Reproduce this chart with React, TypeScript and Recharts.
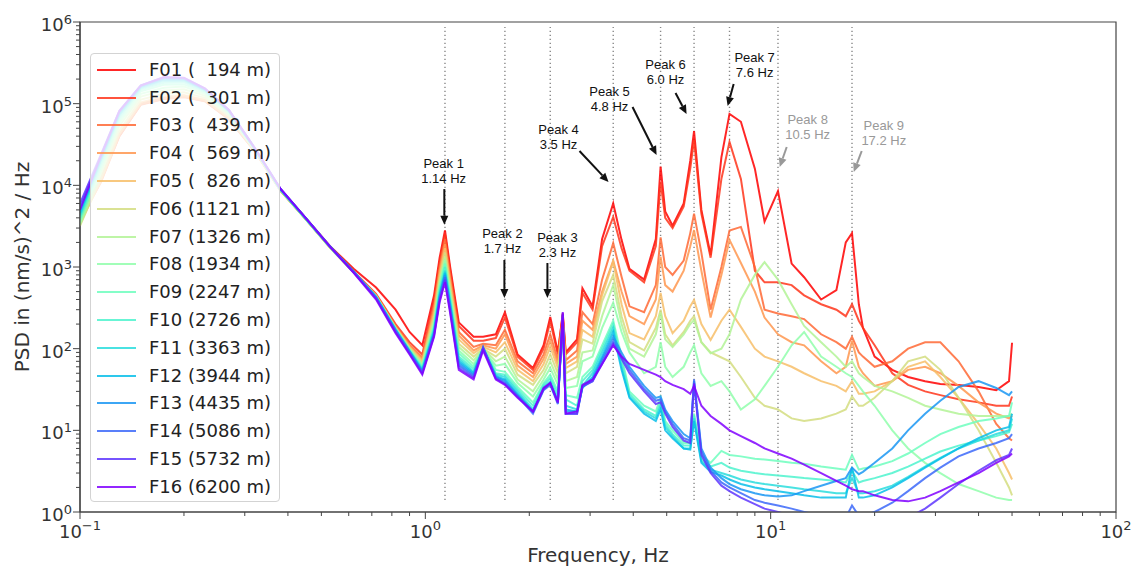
import React from 'react';
import { LineChart, Line, XAxis, YAxis, ReferenceLine, ReferenceDot, ReferenceArea, Legend } from 'recharts';

// Frequency grid (Hz)
const FREQ = [
  0.1, 0.115, 0.13, 0.15, 0.175, 0.2, 0.23, 0.27, 0.32, 0.38, 0.45, 0.53, 0.62, 0.72, 0.82, 0.9, 0.98,
  1.06, 1.1, 1.14, 1.18, 1.25, 1.38, 1.47, 1.6, 1.7, 1.85, 2.05, 2.2, 2.3, 2.42, 2.5, 2.55, 2.75, 2.85, 3.05,
  3.25, 3.5, 3.7, 3.9, 4.3, 4.65, 4.8, 4.95, 5.2, 5.6, 5.85, 6.0, 6.3, 6.7, 7.2, 7.6, 8.2, 9.0, 9.6, 10.5,
  11.5, 12.5, 14, 15.5, 16.5, 17.2, 18, 18.5, 20, 22.5, 25, 28, 31, 35, 40, 45, 49, 50,
];

const F01 = [
  4200, 12000, 42000, 100000, 118000, 125000, 110000, 66000, 27000, 9000, 4000, 1800, 950, 560, 300, 160, 110,
  450, 1300, 2800, 1000, 210, 140, 140, 150, 280, 85, 58, 110, 245, 90, 270, 90, 130, 550, 330,
  2200, 6000, 2150, 950, 700, 2200, 17000, 4800, 3200, 6000, 20000, 46000, 5000, 1400, 22000, 75000, 60000, 16000, 3600, 8500,
  1100, 750, 400, 520, 2000, 2600, 350, 180, 80, 55, 45, 40, 37, 36, 34, 31, 40, 118,
];
const F02 = [
  4000, 11500, 40000, 98000, 115000, 122000, 108000, 65000, 27000, 8800, 3900, 1750, 880, 470, 200, 120, 85,
  400, 1150, 2500, 900, 190, 125, 125, 135, 240, 80, 55, 100, 215, 85, 260, 85, 120, 480, 300,
  1800, 4100, 1700, 900, 650, 1800, 11000, 4000, 3000, 5500, 16000, 36000, 4500, 1300, 12000, 34000, 12000, 900, 650, 650,
  600, 450, 350, 300, 250, 350, 220, 180, 110, 50, 36, 30, 27, 24, 22, 20, 20, 26,
];
const F03 = [
  3800, 11000, 40000, 97000, 114000, 120000, 107000, 64000, 26500, 8700, 3900, 1750, 870, 455, 190, 112, 78,
  330, 1000, 2200, 780, 160, 105, 115, 110, 170, 70, 50, 85, 150, 72, 250, 72, 95, 280, 200,
  700, 1960, 760, 330, 280, 600, 2300, 1000, 800, 1200, 2600, 4500, 1500, 300, 1000, 2800, 3100, 1000, 300, 270,
  250, 230, 150, 120, 100, 140, 90, 80, 60, 70, 100, 120, 120, 70, 30, 12, 8, 7.5,
];
const F04 = [
  3600, 11000, 41000, 99000, 116000, 122000, 108000, 65000, 26500, 8700, 3850, 1720, 860, 450, 185, 108, 74,
  300, 900, 1900, 700, 145, 95, 110, 100, 150, 62, 45, 75, 125, 65, 240, 65, 80, 220, 170,
  500, 1200, 500, 250, 200, 400, 1340, 600, 500, 900, 1800, 2830, 900, 240, 800, 2150, 1120, 500, 240, 150,
  120, 110, 70, 50, 60, 125, 60, 50, 35, 40, 55, 60, 50, 35, 22, 16, 14, 15,
];
const F05 = [
  3400, 11500, 43000, 104000, 122000, 128000, 112000, 67000, 27000, 8700, 3850, 1720, 860, 445, 182, 105, 70,
  270, 800, 1700, 620, 130, 88, 105, 90, 120, 55, 40, 65, 105, 58, 230, 58, 70, 170, 140,
  450, 1160, 350, 155, 130, 250, 480, 250, 155, 220, 330, 395, 200, 128, 220, 300, 185, 100, 80, 70,
  60, 50, 40, 35, 30, 40, 28, 28, 30, 40, 60, 70, 45, 25, 12, 6, 3, 2.5,
];
const F06 = [
  3200, 12500, 47000, 112000, 132000, 138000, 118000, 70000, 27000, 8700, 3850, 1720, 860, 440, 180, 103, 67,
  240, 720, 1500, 560, 115, 80, 100, 80, 100, 48, 36, 55, 85, 50, 220, 50, 60, 130, 115,
  380, 800, 250, 120, 95, 180, 300, 150, 110, 160, 220, 250, 120, 90, 78, 70, 45, 25, 20, 18,
  14, 13, 14, 16, 18, 26, 20, 20, 25, 40, 70, 80, 55, 25, 10, 4, 2, 1.6,
];
const F07 = [
  3300, 14000, 53000, 122000, 145000, 150000, 125000, 73000, 27500, 8800, 3900, 1740, 860, 440, 178, 100, 64,
  220, 650, 1300, 500, 105, 72, 100, 70, 80, 42, 30, 48, 70, 42, 210, 40, 45, 90, 95,
  250, 600, 200, 100, 80, 150, 275, 130, 105, 150, 200, 225, 120, 88, 100, 150, 400, 800, 1150, 700,
  350, 190, 120, 80, 60, 70, 50, 45, 35, 30, 25, 20, 18, 16, 15, 15, 15, 16,
];
const F08 = [
  3500, 15500, 58000, 132000, 157000, 162000, 132000, 76000, 27500, 8800, 3900, 1740, 860, 435, 176, 98, 62,
  200, 600, 1200, 460, 95, 65, 98, 62, 65, 38, 26, 42, 58, 36, 200, 33, 35, 70, 80,
  180, 365, 160, 90, 50, 60, 120, 60, 45, 60, 90, 110, 50, 35, 40, 30, 18, 24, 35, 60,
  110, 160, 80, 60, 50, 45, 35, 30, 20, 10, 6, 4, 3, 2.2, 1.8, 1.5, 1.4, 1.4,
];
const F09 = [
  3800, 17000, 63000, 142000, 170000, 172000, 138000, 78000, 28000, 8900, 3900, 1750, 865, 435, 175, 97, 60,
  190, 560, 1100, 430, 88, 60, 100, 55, 52, 34, 22, 38, 48, 30, 200, 27, 25, 45, 60,
  110, 220, 80, 30, 20, 17, 25, 13, 10, 7, 7, 16, 5, 4, 5.6, 5, 4.8, 4.5, 4.4, 4.2,
  4.0, 3.9, 3.6, 3.4, 3.3, 5, 3.3, 3.4, 3.6, 4.2, 5.2, 7, 9, 11, 13, 14, 15, 22,
];
const F10 = [
  4000, 18500, 68000, 150000, 180000, 182000, 142000, 80000, 28000, 8900, 3950, 1750, 865, 430, 173, 95, 58,
  180, 520, 1000, 400, 80, 56, 100, 50, 48, 32, 20, 36, 44, 27, 200, 24, 20, 40, 55,
  100, 200, 70, 28, 18, 15, 22, 12, 9, 6.5, 6.5, 15, 4.5, 3.6, 4, 3.5, 3.2, 3, 2.9, 2.8,
  2.7, 2.6, 2.5, 2.4, 2.3, 3.2, 2.3, 2.4, 2.6, 3.0, 3.6, 4.5, 5.5, 6.5, 7.5, 8.5, 9.5, 12,
];
const F11 = [
  4300, 20000, 72000, 155000, 190000, 190000, 146000, 81000, 28500, 9000, 3950, 1760, 870, 430, 172, 94, 56,
  170, 480, 900, 370, 75, 52, 100, 48, 45, 30, 18, 34, 40, 24, 210, 20, 18, 35, 50,
  90, 180, 60, 26, 17, 14, 20, 11, 8.5, 6, 6, 14, 4.2, 3.3, 3, 2.8, 2.5, 2.3, 2.2, 2.1,
  2.0, 1.9, 1.8, 1.7, 1.7, 2.6, 1.7, 1.7, 1.8, 2.1, 2.7, 3.6, 4.6, 6, 7.5, 9, 10, 14,
];
const F12 = [
  4600, 21000, 75000, 160000, 198000, 196000, 148000, 82000, 28500, 9000, 3950, 1760, 880, 430, 170, 93, 54,
  160, 450, 850, 350, 70, 50, 100, 46, 42, 28, 17, 32, 38, 22, 220, 18, 17, 33, 45,
  80, 160, 55, 25, 16, 13, 18, 10, 8, 6, 5.8, 13, 4, 3.1, 2.8, 2.5, 2.2, 2, 1.9, 1.8,
  1.7, 1.6, 1.5, 1.5, 1.5, 3.5, 1.5, 1.5, 1.6, 2.0, 2.6, 3.5, 4.5, 6, 8, 10, 11, 16,
];
const F13 = [
  5000, 22000, 78000, 163000, 203000, 200000, 150000, 82000, 28500, 9100, 4000, 1780, 880, 425, 168, 92, 53,
  155, 430, 800, 330, 66, 48, 102, 45, 40, 27, 17, 32, 37, 22, 240, 17, 17, 34, 42,
  75, 140, 90, 60, 35, 25, 26, 18, 13, 9, 8, 40, 6, 3.5, 2.6, 2.2, 1.9, 1.7, 1.6, 1.55,
  1.6, 1.8, 2.1, 2.4, 2.6, 3.5, 2.9, 3.1, 4.0, 6, 10, 16, 23, 34, 40, 33, 27, 30,
];
const F14 = [
  5500, 23000, 80000, 166000, 207000, 204000, 152000, 83000, 29000, 9100, 4000, 1780, 870, 420, 165, 90, 51,
  150, 410, 750, 310, 62, 46, 105, 44, 38, 26, 16, 31, 36, 21, 260, 16, 16, 34, 40,
  70, 125, 80, 55, 32, 23, 24, 17, 12, 8, 7.5, 42, 5.5, 3.2, 2.3, 2.0, 1.7, 1.4, 1.3, 1.2,
  1.1, 1.0, 0.9, 0.85, 0.85, 1.2, 0.9, 0.9, 1.0, 1.3, 1.8, 2.6, 3.5, 4.8, 6, 7, 8, 9,
];
const F15 = [
  6000, 24000, 82000, 168000, 210000, 206000, 153000, 83000, 29000, 9200, 4000, 1770, 860, 415, 160, 88, 50,
  145, 390, 700, 290, 58, 44, 100, 43, 37, 26, 17, 32, 38, 22, 270, 16, 16, 35, 40,
  65, 115, 75, 50, 30, 21, 22, 16, 11, 7.5, 7, 38, 5, 3, 2.1, 1.8, 1.5, 1.25, 1.1, 1.0,
  0.9, 0.8, 0.7, 0.65, 0.65, 0.7, 0.65, 0.65, 0.7, 0.75, 0.85, 1.1, 1.5, 2.2, 3.2, 4.3, 5, 6,
];
const F16 = [
  5000, 23000, 81000, 167000, 212000, 208000, 154000, 84000, 29000, 9200, 4000, 1760, 850, 400, 155, 85, 48,
  140, 370, 650, 270, 55, 42, 95, 42, 36, 25, 17, 33, 38, 22, 280, 16, 17, 36, 42,
  65, 110, 80, 65, 55, 48, 45, 40, 36, 32, 28, 35, 20, 15, 12, 10, 8.5, 7, 6, 5.2,
  4.5, 3.8, 3.0, 2.4, 2.1, 1.9, 1.8, 1.8, 1.6, 1.4, 1.35, 1.5, 1.8, 2.3, 3.0, 4.0, 4.8, 5.2,
];

const SERIES_KEYS = ['F01', 'F02', 'F03', 'F04', 'F05', 'F06', 'F07', 'F08', 'F09', 'F10', 'F11', 'F12', 'F13', 'F14', 'F15', 'F16'];
const SERIES_NAMES = [
  'F01 (  194 m)', 'F02 (  301 m)', 'F03 (  439 m)', 'F04 (  569 m)', 'F05 (  826 m)', 'F06 (1121 m)',
  'F07 (1326 m)', 'F08 (1934 m)', 'F09 (2247 m)', 'F10 (2726 m)', 'F11 (3363 m)', 'F12 (3944 m)',
  'F13 (4435 m)', 'F14 (5086 m)', 'F15 (5732 m)', 'F16 (6200 m)',
];
const SERIES_COLORS = [
  '#ff0000', '#ff351b', '#ff6835', '#ff964f', '#f7be68', '#d4dd80', '#b3f396', '#90feab',
  '#6efebe', '#4df3ce', '#2adddd', '#08bee9', '#1a96f3', '#3c68f9', '#5e35fe', '#8000ff',
];
const SERIES_VALUES = [F01, F02, F03, F04, F05, F06, F07, F08, F09, F10, F11, F12, F13, F14, F15, F16];

// Peak marker frequencies (dotted verticals)
const PEAK_FREQS = [1.14, 1.7, 2.3, 3.5, 4.8, 6.0, 7.6, 10.5, 17.2];

// Annotations: label anchor and arrow (data units)
const PEAK_LABELS = [
  { l1: 'Peak 1', l2: '1.14 Hz', lx: 1.13, ly: 18770, ax1: 1.135, ay1: 9000, ax2: 1.135, ay2: 3300, gray: false },
  { l1: 'Peak 2', l2: '1.7 Hz', lx: 1.672, ly: 2608, ax1: 1.694, ay1: 1219, ax2: 1.694, ay2: 418, gray: false },
  { l1: 'Peak 3', l2: '2.3 Hz', lx: 2.413, ly: 2330, ax1: 2.257, ay1: 1119, ax2: 2.257, ay2: 418, gray: false },
  { l1: 'Peak 4', l2: '3.5 Hz', lx: 2.43, ly: 48960, ax1: 2.795, ay1: 26340, ax2: 3.392, ay2: 10990, gray: false },
  { l1: 'Peak 5', l2: '4.8 Hz', lx: 3.415, ly: 142900, ax1: 3.981, ay1: 91000, ax2: 4.673, ay2: 23530, gray: false },
  { l1: 'Peak 6', l2: '6.0 Hz', lx: 4.962, ly: 306000, ax1: 5.303, ay1: 135100, ax2: 5.708, ay2: 74740, gray: false },
  { l1: 'Peak 7', l2: '7.6 Hz', lx: 8.986, ly: 372700, ax1: 7.813, ay1: 174100, ax2: 7.506, ay2: 93650, gray: false },
  { l1: 'Peak 8', l2: '10.5 Hz', lx: 12.8, ly: 64900, ax1: 11.13, ay1: 29460, ax2: 10.62, ay2: 16770, gray: true },
  { l1: 'Peak 9', l2: '17.2 Hz', lx: 21.26, ly: 54800, ax1: 18.35, ay1: 26340, ax2: 17.4, ay2: 14570, gray: true },
];

// Axis ticks
const X_MAJOR = [0.1, 1, 10, 100];
const X_EXP = ['\u22121', '0', '1', '2'];
const X_MINOR = [0.2, 0.3, 0.4, 0.5, 0.6, 0.7, 0.8, 0.9, 2, 3, 4, 5, 6, 7, 8, 9, 20, 30, 40, 50, 60, 70, 80, 90];
const Y_MAJOR = [1, 10, 100, 1000, 10000, 100000, 1000000];
const Y_EXP = ['0', '1', '2', '3', '4', '5', '6'];
const Y_MINOR = [
  2, 3, 4, 5, 6, 7, 8, 9, 20, 30, 40, 50, 60, 70, 80, 90, 200, 300, 400, 500, 600, 700, 800, 900,
  2000, 3000, 4000, 5000, 6000, 7000, 8000, 9000, 20000, 30000, 40000, 50000, 60000, 70000, 80000, 90000,
  200000, 300000, 400000, 500000, 600000, 700000, 800000, 900000,
];
const X_TICKS = [...X_MAJOR, ...X_MINOR].sort((a, b) => a - b);
const Y_TICKS = [...Y_MAJOR, ...Y_MINOR].sort((a, b) => a - b);

const DATA = FREQ.map((f, i) => {
  const row: Record<string, number> = { f };
  SERIES_KEYS.forEach((k, j) => {
    row[k] = SERIES_VALUES[j][i];
  });
  return row;
});

const AXIS_COLOR = '#444';
const TEXT_COLOR = '#333';
const FONT = "'DejaVu Sans', sans-serif";
const ANN_FONT = "'Liberation Sans', Arial, sans-serif";

const XTick = (props: any) => {
  const { x, y, payload } = props;
  const idx = X_MAJOR.indexOf(payload.value);
  const major = idx >= 0;
  return (
    <g>
      <line x1={x} y1={y} x2={x} y2={y + (major ? 7 : 4)} stroke={AXIS_COLOR} strokeWidth={1} />
      {major && (
        <text x={x} y={y + 26} textAnchor="middle" fontFamily={FONT} fontSize={18} fill={TEXT_COLOR}>
          10<tspan dy={-8} fontSize={13}>{X_EXP[idx]}</tspan>
        </text>
      )}
    </g>
  );
};

const YTick = (props: any) => {
  const { x, y, payload } = props;
  const idx = Y_MAJOR.indexOf(payload.value);
  const major = idx >= 0;
  return (
    <g>
      <line x1={x - (major ? 7 : 4)} y1={y} x2={x} y2={y} stroke={AXIS_COLOR} strokeWidth={1} />
      {major && (
        <text x={x - 8} y={y + 9} textAnchor="end" fontFamily={FONT} fontSize={18} fill={TEXT_COLOR}>
          10<tspan dy={-7} fontSize={13}>{Y_EXP[idx]}</tspan>
        </text>
      )}
    </g>
  );
};

const yLabel = (props: any) => {
  const vb = props.viewBox || { x: 0, y: 22, width: 80, height: 490 };
  const cx = vb.x + 22;
  const cy = vb.y + vb.height / 2;
  return (
    <text x={cx} y={cy} transform={`rotate(-90 ${cx} ${cy})`} textAnchor="middle" dominantBaseline="central"
      fontFamily={FONT} fontSize={20} fill={TEXT_COLOR}>
      PSD in (nm/s)^2 / Hz
    </text>
  );
};

const xLabel = (props: any) => {
  const vb = props.viewBox || { x: 80, y: 512, width: 1036, height: 57 };
  return (
    <text x={vb.x + vb.width / 2} y={vb.y + 50} textAnchor="middle" fontFamily={FONT} fontSize={20} fill={TEXT_COLOR}>
      Frequency, Hz
    </text>
  );
};

const makeArrow = (color: string) => (props: any) => {
  const { x1, y1, x2, y2 } = props;
  if ([x1, y1, x2, y2].some((v) => typeof v !== 'number' || isNaN(v))) return <g />;
  const dx = x2 - x1;
  const dy = y2 - y1;
  const len = Math.hypot(dx, dy) || 1;
  const ux = dx / len;
  const uy = dy / len;
  const hl = 9;
  const hw = 4;
  const bx = x2 - ux * hl;
  const by = y2 - uy * hl;
  return (
    <g>
      <line x1={x1} y1={y1} x2={bx} y2={by} stroke={color} strokeWidth={2} />
      <polygon points={`${x2},${y2} ${bx - uy * hw},${by + ux * hw} ${bx + uy * hw},${by - ux * hw}`} fill={color} />
    </g>
  );
};

const makeLabel = (l1: string, l2: string, color: string) => (props: any) => {
  const { cx, cy } = props;
  if (typeof cx !== 'number' || typeof cy !== 'number') return <g />;
  return (
    <text x={cx} y={cy} textAnchor="middle" fontFamily={ANN_FONT} fontSize={13} fill={color}>
      <tspan x={cx} dy="0.35em">{l1}</tspan>
      <tspan x={cx} dy={15}>{l2}</tspan>
    </text>
  );
};

const renderLegend = (props: any) => {
  const payload = props.payload || [];
  return (
    <div
      style={{
        boxSizing: 'border-box',
        width: 190,
        height: 449,
        border: '1px solid #d3d3d3',
        borderRadius: 4,
        background: 'rgba(255,255,255,0.8)',
        paddingTop: 2,
      }}
    >
      {payload.map((e: any) => (
        <div key={e.value} style={{ display: 'flex', alignItems: 'center', height: 27.8 }}>
          <span
            style={{
              display: 'inline-block',
              width: 39,
              height: 0,
              borderTop: `2px solid ${e.color}`,
              opacity: 0.85,
              marginLeft: 6,
              marginRight: 13,
            }}
          />
          <span style={{ whiteSpace: 'pre', fontFamily: FONT, fontSize: 18, color: '#222', lineHeight: '20px' }}>
            {e.value}
          </span>
        </div>
      ))}
    </div>
  );
};

export default function App() {
  return (
    <div style={{ position: 'absolute', left: 0, top: 0, width: 1136, height: 569, background: '#fff' }}>
      <LineChart width={1136} height={569} data={DATA} margin={{ top: 22, right: 20, bottom: 0, left: 0 }}>
        <XAxis
          dataKey="f"
          type="number"
          scale="log"
          domain={[0.1, 100]}
          allowDataOverflow
          ticks={X_TICKS}
          interval={0}
          tickLine={false}
          tickSize={0}
          tickMargin={0}
          tick={(p: any) => <XTick {...p} />}
          axisLine={{ stroke: AXIS_COLOR, strokeWidth: 1.2 }}
          height={57}
          label={xLabel}
        />
        <YAxis
          type="number"
          scale="log"
          domain={[1, 1000000]}
          allowDataOverflow
          ticks={Y_TICKS}
          interval={0}
          tickLine={false}
          tickSize={0}
          tickMargin={0}
          tick={(p: any) => <YTick {...p} />}
          axisLine={{ stroke: AXIS_COLOR, strokeWidth: 1.2 }}
          width={80}
          label={yLabel}
        />
        <ReferenceArea x1={0.1} x2={100} y1={1} y2={1000000} fill="none" fillOpacity={0} stroke={AXIS_COLOR} strokeWidth={1.2} />
        {PEAK_FREQS.map((f) => (
          <ReferenceLine
            key={`v${f}`}
            segment={[{ x: f, y: 1.4 }, { x: f, y: 870000 }]}
            stroke="#888"
            strokeWidth={1.4}
            strokeDasharray="1.4 2.6"
          />
        ))}
        {SERIES_KEYS.map((k, j) => (
          <Line
            key={k}
            dataKey={k}
            name={SERIES_NAMES[j]}
            type="linear"
            stroke={SERIES_COLORS[j]}
            strokeWidth={2}
            strokeOpacity={0.85}
            dot={false}
            activeDot={false}
            isAnimationActive={false}
          />
        ))}
        {PEAK_LABELS.map((p) => (
          <ReferenceLine
            key={`a${p.l1}`}
            segment={[{ x: p.ax1, y: p.ay1 }, { x: p.ax2, y: p.ay2 }]}
            stroke={p.gray ? '#999' : '#111'}
            shape={makeArrow(p.gray ? '#999' : '#111')}
          />
        ))}
        {PEAK_LABELS.map((p) => (
          <ReferenceDot
            key={`t${p.l1}`}
            x={p.lx}
            y={p.ly}
            r={0}
            shape={makeLabel(p.l1, p.l2, p.gray ? '#999' : '#111')}
          />
        ))}
        <Legend
          layout="vertical"
          align="center"
          verticalAlign="middle"
          wrapperStyle={{ left: 90, top: 53, width: 190, height: 449 }}
          content={renderLegend}
        />
      </LineChart>
    </div>
  );
}
